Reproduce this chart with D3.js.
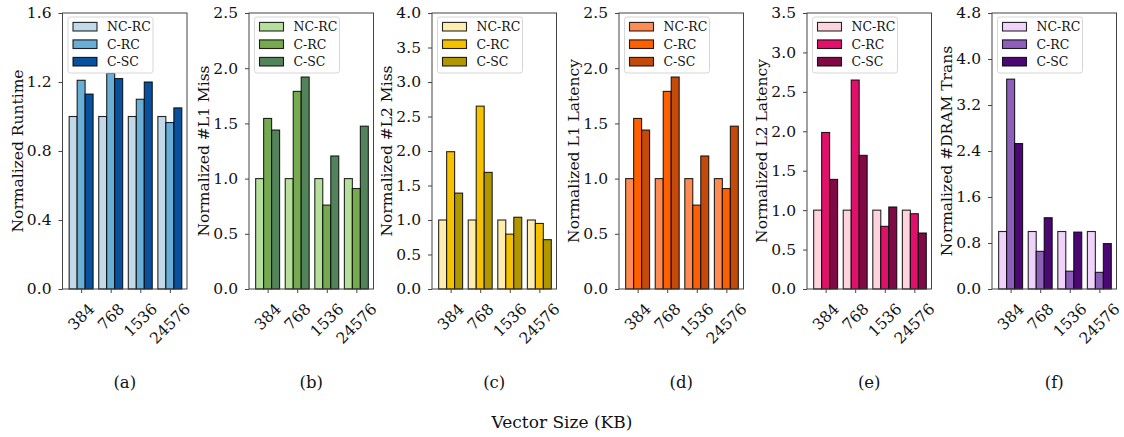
<!DOCTYPE html>
<html lang="en">
<head>
<meta charset="UTF-8">
<title>Normalized metrics by vector size</title>
<style>
  body { margin: 0; background: #fff; }
  svg text { font-family: "DejaVu Serif", serif; fill: #111; }
  .bar { stroke: #000; stroke-opacity: 0.85; stroke-width: 1.1px; }
  .spine { fill: none; stroke: #444; stroke-width: 1px; }
  .tick line { stroke: #444; }
</style>
</head>
<body>
<script src="https://d3js.org/d3.v7.min.js"></script>
<script>
// categories
const sizes = ["384", "768", "1536", "24576"];
const seriesNames = ["NC-RC", "C-RC", "C-SC"];

// NC-RC is the baseline, 1.0 for every metric
const baseline = [1.0, 1.0, 1.0, 1.0];

const runtimeCRC = [1.21, 1.25, 1.10, 0.965];
const runtimeCSC = [1.13, 1.22, 1.20, 1.05];

const l1MissCRC = [1.545, 1.79, 0.76, 0.91];
const l1MissCSC = [1.44, 1.92, 1.205, 1.475];

const l2MissCRC = [1.99, 2.65, 0.795, 0.95];
const l2MissCSC = [1.39, 1.69, 1.04, 0.715];

const l1LatCRC = [1.545, 1.79, 0.76, 0.91];
const l1LatCSC = [1.44, 1.92, 1.205, 1.475];

const l2LatCRC = [1.985, 2.65, 0.795, 0.955];
const l2LatCSC = [1.39, 1.695, 1.04, 0.71];

const dramCRC = [3.65, 0.655, 0.31, 0.29];
const dramCSC = [2.53, 1.24, 0.99, 0.79];

// y tick labels
const runtimeTicks = [0, 0.4, 0.8, 1.2, 1.6];
const l1Ticks = [0, 0.5, 1.0, 1.5, 2.0, 2.5];
const l2MissTicks = [0, 0.5, 1.0, 1.5, 2.0, 2.5, 3.0, 3.5, 4.0];
const l2LatTicks = [0, 0.5, 1.0, 1.5, 2.0, 2.5, 3.0, 3.5];
const dramTicks = [0, 0.8, 1.6, 2.4, 3.2, 4.0, 4.8];

// colours per panel: NC-RC, C-RC, C-SC
const blues = ["#c1d9e9", "#6aaed6", "#0a519d"];
const greens = ["#b7df9c", "#76aa50", "#53835a"];
const yellows = ["#fdeeb0", "#f6c100", "#b09700"];
const oranges = ["#fd8b52", "#fd6000", "#c44a0b"];
const pinks = ["#fdd3de", "#e0116a", "#7f0a45"];
const purples = ["#efd3fa", "#8e5fba", "#4b0872"];

const panels = [
  { tag: "(a)", ylabel: "Normalized Runtime", ticks: runtimeTicks, series: [baseline, runtimeCRC, runtimeCSC], colors: blues },
  { tag: "(b)", ylabel: "Normalized #L1 Miss", ticks: l1Ticks, series: [baseline, l1MissCRC, l1MissCSC], colors: greens },
  { tag: "(c)", ylabel: "Normalized #L2 Miss", ticks: l2MissTicks, series: [baseline, l2MissCRC, l2MissCSC], colors: yellows },
  { tag: "(d)", ylabel: "Normalized L1 Latency", ticks: l1Ticks, series: [baseline, l1LatCRC, l1LatCSC], colors: oranges },
  { tag: "(e)", ylabel: "Normalized L2 Latency", ticks: l2LatTicks, series: [baseline, l2LatCRC, l2LatCSC], colors: pinks },
  { tag: "(f)", ylabel: "Normalized #DRAM Trans", ticks: dramTicks, series: [baseline, dramCRC, dramCSC], colors: purples }
];

var width = 1124, height = 437;
var lefts = [62.5, 249, 432, 619, 807, 992];
var axW = 124.5, axTop = 13, axBottom = 289;
var barW = 0.27;
var fs = 15.5;

var svg = d3.select("body").append("svg")
  .attr("width", width)
  .attr("height", height);

var x = d3.scaleLinear().domain([-0.63, 3.58]);

panels.forEach(function (p, i) {
  var left = lefts[i];
  var g = svg.append("g").attr("transform", "translate(" + left + ",0)");
  x.range([0, axW]);
  var y = d3.scaleLinear()
    .domain([0, p.ticks[p.ticks.length - 1]])
    .range([axBottom, axTop]);

  // bars
  p.series.forEach(function (vals, s) {
    g.selectAll(".bar-s" + s)
      .data(vals)
      .enter().append("rect")
      .attr("class", "bar")
      .attr("x", function (d, k) { return x(k + (s - 1) * barW - barW / 2); })
      .attr("width", x(barW) - x(0))
      .attr("y", function (d) { return y(d); })
      .attr("height", function (d) { return y(0) - y(d); })
      .attr("fill", p.colors[s]);
  });

  // y axis
  var yAxis = d3.axisLeft(y)
    .tickValues(p.ticks)
    .tickFormat(d3.format(".1f"))
    .tickSize(4)
    .tickPadding(7);
  var ya = g.append("g").call(yAxis);
  ya.select(".domain").remove();
  ya.selectAll("text").style("font-size", fs + "px").style("font-family", "DejaVu Serif");

  // x ticks
  var xa = g.append("g").attr("transform", "translate(0," + axBottom + ")")
    .call(d3.axisBottom(x).tickValues([0, 1, 2, 3]).tickSize(4).tickFormat(""));
  xa.select(".domain").remove();

  // rotated x tick labels, centred under each tick
  sizes.forEach(function (lab, k) {
    var t = g.append("text")
      .attr("text-anchor", "middle")
      .attr("dy", "0.36em")
      .style("font-size", fs + "px")
      .text(lab);
    var w = t.node().getComputedTextLength();
    var bh = (w + fs * 0.73) * Math.SQRT1_2;
    t.attr("transform", "translate(" + x(k) + "," + (302 + bh / 2) + ") rotate(-45)");
  });

  // frame
  g.append("rect").attr("class", "spine")
    .attr("x", 0).attr("y", axTop)
    .attr("width", axW).attr("height", axBottom - axTop);

  // legend
  var lg = g.append("g").attr("transform", "translate(5.5," + (axTop + 4) + ")");
  lg.append("rect")
    .attr("width", 85).attr("height", 56)
    .attr("rx", 2.5)
    .attr("fill", "#fff").attr("fill-opacity", 0.8)
    .attr("stroke", "#d6d6d6");
  seriesNames.forEach(function (name, s) {
    var cy = 9.7 + s * 17.5;
    lg.append("rect").attr("class", "bar")
      .attr("x", 5).attr("y", cy - 4.3)
      .attr("width", 24).attr("height", 8.6)
      .attr("fill", p.colors[s]);
    lg.append("text")
      .attr("x", 39).attr("y", cy)
      .attr("dy", "0.36em")
      .style("font-size", "12.5px")
      .text(name);
  });

  // y label
  svg.append("text")
    .attr("transform", "translate(" + (left - 40) + "," + ((axTop + axBottom) / 2) + ") rotate(-90)")
    .attr("text-anchor", "middle")
    .style("font-size", fs + "px")
    .text(p.ylabel);

  // panel tag
  svg.append("text")
    .attr("x", left + axW / 2).attr("y", 388)
    .attr("text-anchor", "middle")
    .style("font-size", "16.5px")
    .text(p.tag);
});

svg.append("text")
  .attr("x", 562).attr("y", 428)
  .attr("text-anchor", "middle")
  .style("font-size", "17px")
  .text("Vector Size (KB)");
</script>
</body>
</html>
